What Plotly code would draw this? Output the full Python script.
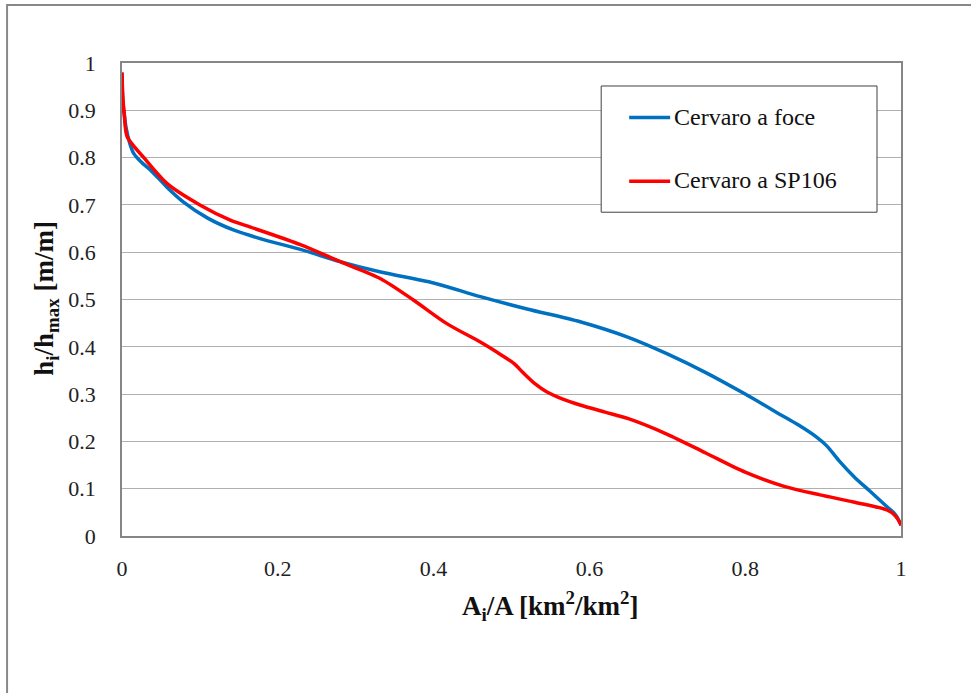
import plotly.graph_objects as go

# Hypsometric curves of the Cervaro basin (relative area vs relative elevation)
series_names = ["Cervaro a foce", "Cervaro a SP106"]
series_colors = ["#0070C0", "#FF0000"]

foce_x = [0, 0.001, 0.003, 0.005, 0.01, 0.015, 0.025, 0.037, 0.058, 0.079, 0.11,
          0.143, 0.185, 0.229, 0.28, 0.332, 0.4, 0.46, 0.52, 0.588, 0.65, 0.7,
          0.75, 0.8, 0.85, 0.87, 0.89, 0.905, 0.92, 0.94, 0.96, 0.982, 0.993, 1.0]
foce_y = [0.98, 0.92, 0.89, 0.865, 0.83, 0.809, 0.79, 0.773, 0.737, 0.706, 0.672,
          0.647, 0.625, 0.606, 0.58, 0.558, 0.535, 0.506, 0.48, 0.453, 0.42, 0.385,
          0.345, 0.30, 0.252, 0.233, 0.211, 0.19, 0.16, 0.125, 0.095, 0.062, 0.045, 0.023]

sp106_x = [0, 0.001, 0.003, 0.0067, 0.028, 0.058, 0.1, 0.139, 0.165, 0.229,
           0.28, 0.332, 0.374, 0.417, 0.46, 0.48, 0.503, 0.515, 0.53, 0.545, 0.565,
           0.588, 0.62, 0.65, 0.7, 0.75, 0.8, 0.85, 0.896, 0.939, 0.982, 0.992, 0.999, 1.0]
sp106_y = [0.98, 0.93, 0.89, 0.844, 0.80, 0.745, 0.70, 0.668, 0.653, 0.616,
           0.58, 0.544, 0.499, 0.449, 0.41, 0.39, 0.365, 0.345, 0.322, 0.305, 0.29,
           0.277, 0.262, 0.248, 0.215, 0.175, 0.135, 0.105, 0.087, 0.072, 0.055, 0.044, 0.027, 0.022]

y_ticks = [0, 0.1, 0.2, 0.3, 0.4, 0.5, 0.6, 0.7, 0.8, 0.9, 1]
y_tick_text = ["0", "0.1", "0.2", "0.3", "0.4", "0.5", "0.6", "0.7", "0.8", "0.9", "1"]
x_ticks = [0, 0.2, 0.4, 0.6, 0.8, 1]
x_tick_text = ["0", "0.2", "0.4", "0.6", "0.8", "1"]

x_title = "<b>A<sub>i</sub>/A [km<sup>2</sup>/km<sup>2</sup>]</b>"
y_title = "<b>h<sub>i</sub>/h<sub>max</sub> [m/m]</b>"

FONT = "Liberation Serif"
W, H = 971, 693
L, R, T, B = 121.5, 70, 62.7, 157
PW, PH = W - L - R, H - T - B


def px_to_paper_x(px):
    return (px - L) / PW


def px_to_paper_y(py):
    return (H - B - py) / PH


fig = go.Figure()
for xs, ys, name, color in [(foce_x, foce_y, series_names[0], series_colors[0]),
                            (sp106_x, sp106_y, series_names[1], series_colors[1])]:
    fig.add_trace(go.Scatter(x=xs, y=ys, mode="lines", name=name,
                             line=dict(color=color, width=3.5, shape="spline", smoothing=0.8),
                             showlegend=False))

shapes = []
annotations = []

# outer chart frame
shapes.append(dict(type="rect", xref="paper", yref="paper",
                   x0=px_to_paper_x(6.5), x1=px_to_paper_x(990),
                   y0=px_to_paper_y(710), y1=px_to_paper_y(4.7),
                   line=dict(color="#888888", width=2), fillcolor="rgba(0,0,0,0)", layer="below"))

# legend box
lx0, lx1, ly0, ly1 = 601, 877, 85.7, 212
shapes.append(dict(type="rect", xref="paper", yref="paper",
                   x0=px_to_paper_x(lx0), x1=px_to_paper_x(lx1),
                   y0=px_to_paper_y(ly1), y1=px_to_paper_y(ly0),
                   line=dict(color="#404040", width=1), fillcolor="white", layer="above"))
for i, (name, color) in enumerate(zip(series_names, series_colors)):
    yy = px_to_paper_y(117.3 + i * 63.7)
    shapes.append(dict(type="line", xref="paper", yref="paper",
                       x0=px_to_paper_x(629), x1=px_to_paper_x(670), y0=yy, y1=yy,
                       line=dict(color=color, width=3.5), layer="above"))
    annotations.append(dict(text=name, xref="paper", yref="paper",
                            x=px_to_paper_x(672), y=px_to_paper_y(116.5 + i * 63.7),
                            xanchor="left", yanchor="middle",
                            showarrow=False, font=dict(family=FONT, size=24, color="#111111")))

# axis titles
annotations.append(dict(text=x_title, xref="paper", yref="paper",
                        x=px_to_paper_x(550), y=px_to_paper_y(606),
                        xanchor="center", yanchor="middle", showarrow=False,
                        font=dict(family=FONT, size=27, color="#111111")))
annotations.append(dict(text=y_title, xref="paper", yref="paper",
                        x=px_to_paper_x(46), y=px_to_paper_y(298),
                        xanchor="center", yanchor="middle", showarrow=False, textangle=-90,
                        font=dict(family=FONT, size=27, color="#111111")))

fig.update_layout(
    width=W, height=H,
    margin=dict(l=L, r=R, t=T, b=B),
    paper_bgcolor="white", plot_bgcolor="white",
    font=dict(family=FONT, color="#222222"),
    shapes=shapes, annotations=annotations,
    xaxis=dict(range=[0, 1], tickvals=x_ticks, ticktext=x_tick_text,
               showgrid=False, zeroline=False, showline=True, mirror=True,
               linecolor="#868686", linewidth=1.5, ticks="",
               tickfont=dict(family=FONT, size=22, color="#222222"),
               ticklabelstandoff=12),
    yaxis=dict(range=[0, 1], tickvals=y_ticks, ticktext=y_tick_text,
               showgrid=True, gridcolor="#B0B0B0", gridwidth=1.2, zeroline=False,
               showline=True, mirror=True, linecolor="#868686", linewidth=1.5, ticks="",
               tickfont=dict(family=FONT, size=22, color="#222222"),
               ticklabelstandoff=20),
)

fig.write_html("out.html")
